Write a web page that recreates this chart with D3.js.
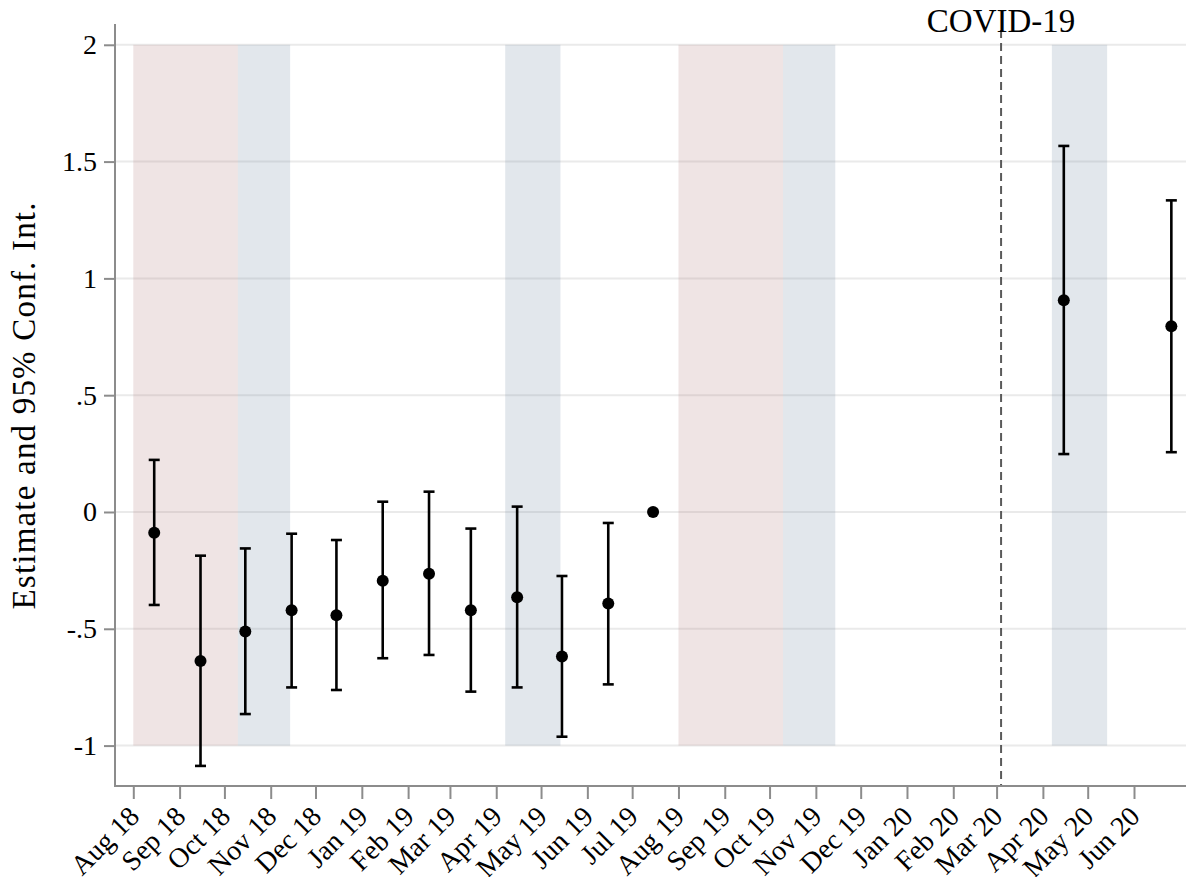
<!DOCTYPE html>
<html>
<head>
<meta charset="utf-8">
<script src="https://cdn.jsdelivr.net/npm/d3@7"></script>
<style>
  body { margin: 0; background: #fff; }
  text { font-family: "Liberation Serif", "DejaVu Serif", serif; fill: #000; }
</style>
</head>
<body>
<div id="chart"></div>
<script>
// data
var pointDates = ['2018-08-15', '2018-09-15', '2018-10-15', '2018-11-15', '2018-12-15',
                  '2019-01-15', '2019-02-15', '2019-03-15', '2019-04-15', '2019-05-15',
                  '2019-06-15', '2019-07-15', '2020-04-15', '2020-06-26'];
var estimates = [-0.089, -0.638, -0.512, -0.421, -0.442, -0.294, -0.264, -0.421, -0.365, -0.619, -0.392, 0, 0.906, 0.795];
var lower     = [-0.398, -1.087, -0.865, -0.751, -0.762, -0.626, -0.612, -0.769, -0.751, -0.962, -0.738, null, 0.248, 0.256];
var upper     = [0.223, -0.187, -0.156, -0.093, -0.120, 0.044, 0.087, -0.071, 0.023, -0.274, -0.047, null, 1.567, 1.334];

// shaded periods
var bandStart = ['2018-08-01', '2018-10-10', '2019-04-07', '2019-08-01', '2019-10-10', '2020-04-07'];
var bandEnd   = ['2018-10-10', '2018-11-14', '2019-05-14', '2019-10-10', '2019-11-14', '2020-05-14'];
var bandType  = ['pink', 'blue', 'blue', 'pink', 'blue', 'blue'];

var yTicks = [-1, -0.5, 0, 0.5, 1, 1.5, 2];
var yTickLabels = ['-1', '-.5', '0', '.5', '1', '1.5', '2'];
var covidDate = '2020-03-04';
var covidLabel = 'COVID-19';
var yTitle = 'Estimate and 95% Conf. Int.';

var width = 1186;
var height = 877;
var plotLeft = 115, plotRight = 1186, plotTop = 24, plotBottom = 786;
var parse = d3.timeParse('%Y-%m-%d');

// month ticks are ~1.49px per day, Aug 1 2018 sits at 133
var xBase = d3.scaleTime()
    .domain([parse('2018-08-01'), parse('2020-06-01')])
    .range([133.3, 1134]);
var x = d3.scaleTime()
    .domain([xBase.invert(plotLeft), xBase.invert(plotRight)])
    .range([plotLeft, plotRight]);

var y = d3.scaleLinear()
    .domain([-1.173, 2.089])
    .range([plotBottom, plotTop]);

var svg = d3.select('#chart').append('svg')
    .attr('width', width)
    .attr('height', height);

//gridlines
svg.append('g').selectAll('line')
    .data(yTicks)
    .enter().append('line')
    .attr('x1', plotLeft).attr('x2', plotRight)
    .attr('y1', function(d) { return y(d); })
    .attr('y2', function(d) { return y(d); })
    .style('stroke', '#eaeaea')
    .style('stroke-width', 2);

//shaded bands
svg.append('g').selectAll('rect')
    .data(bandStart)
    .enter().append('rect')
    .attr('x', function(d) { return x(parse(d)); })
    .attr('width', function(d, i) { return x(parse(bandEnd[i])) - x(parse(d)); })
    .attr('y', y(2))
    .attr('height', y(-1) - y(2))
    .style('fill', function(d, i) { return bandType[i] === 'pink' ? 'rgb(175,120,120)' : 'rgb(110,135,160)'; })
    .style('opacity', 0.2);

//covid line + label
svg.append('line')
    .attr('x1', x(parse(covidDate))).attr('x2', x(parse(covidDate)))
    .attr('y1', 30).attr('y2', plotBottom)
    .style('stroke', '#5a5a5a')
    .style('stroke-width', 2)
    .style('stroke-dasharray', '8,5');

svg.append('text')
    .attr('x', x(parse(covidDate)))
    .attr('y', 32)
    .attr('text-anchor', 'middle')
    .style('font-size', '33px')
    .text(covidLabel);

//y axis
var yAxis = d3.axisLeft(y)
    .tickValues(yTicks)
    .tickSize(11)
    .tickPadding(7)
    .tickFormat(function(d, i) { return yTickLabels[i]; });

var gy = svg.append('g')
    .attr('transform', 'translate(' + plotLeft + ',0)')
    .call(yAxis);
gy.select('.domain').remove();
gy.selectAll('line').style('stroke', '#8c8c8c').style('stroke-width', 2);
gy.selectAll('text').style('font-size', '28px').style('font-family', '"Liberation Serif", serif');

svg.append('line')
    .attr('x1', plotLeft).attr('x2', plotLeft)
    .attr('y1', plotTop).attr('y2', plotBottom + 1)
    .style('stroke', '#8c8c8c')
    .style('stroke-width', 2);

//x axis
var xAxis = d3.axisBottom(x)
    .tickValues(d3.timeMonth.range(parse('2018-08-01'), parse('2020-07-01')))
    .tickSize(13)
    .tickFormat(d3.timeFormat('%b %y'));

var gx = svg.append('g')
    .attr('transform', 'translate(0,' + plotBottom + ')')
    .call(xAxis);
gx.select('.domain').remove();
gx.selectAll('line').style('stroke', '#8c8c8c').style('stroke-width', 2);
gx.selectAll('text')
    .style('font-size', '28px')
    .style('font-family', '"Liberation Serif", serif')
    .attr('text-anchor', 'end')
    .attr('dy', null)
    .attr('y', 0)
    .attr('transform', 'translate(7,32) rotate(-45)');

svg.append('line')
    .attr('x1', plotLeft - 1).attr('x2', plotRight)
    .attr('y1', plotBottom).attr('y2', plotBottom)
    .style('stroke', '#8c8c8c')
    .style('stroke-width', 2);

//y title
svg.append('text')
    .attr('transform', 'translate(35,406) rotate(-90)')
    .attr('text-anchor', 'middle')
    .style('font-size', '33px')
    .attr('textLength', 407)
    .attr('lengthAdjust', 'spacing')
    .text(yTitle);

//error bars
var bars = svg.append('g');
pointDates.forEach(function(d, i) {
    if (lower[i] === null) return;
    var cx = x(parse(d));
    bars.append('line')
        .attr('x1', cx).attr('x2', cx)
        .attr('y1', y(lower[i])).attr('y2', y(upper[i]))
        .style('stroke', '#000').style('stroke-width', 2.6);
    [lower[i], upper[i]].forEach(function(v) {
        bars.append('line')
            .attr('x1', cx - 5.5).attr('x2', cx + 5.5)
            .attr('y1', y(v)).attr('y2', y(v))
            .style('stroke', '#000').style('stroke-width', 2.6);
    });
});

//points
svg.append('g').selectAll('circle')
    .data(pointDates)
    .enter().append('circle')
    .attr('cx', function(d) { return x(parse(d)); })
    .attr('cy', function(d, i) { return y(estimates[i]); })
    .attr('r', 6)
    .style('fill', '#000');
</script>
</body>
</html>
